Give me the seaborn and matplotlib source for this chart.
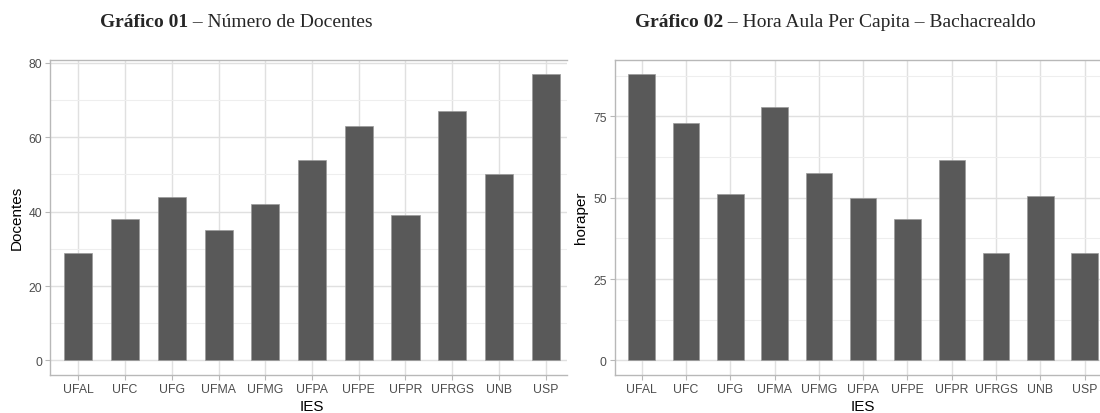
import matplotlib
matplotlib.use("Agg")
import matplotlib.pyplot as plt
import seaborn as sns
import pandas as pd
from matplotlib.ticker import MultipleLocator

ies = ["UFAL", "UFC", "UFG", "UFMA", "UFMG", "UFPA", "UFPE", "UFPR", "UFRGS", "UNB", "USP"]
docentes = [29, 38, 44, 35, 42, 54, 63, 39, 67, 50, 77]
horaper = [88, 73, 51, 78, 57.5, 50, 43.5, 61.5, 33, 50.5, 33]

title1_bold = "Gráfico 01"
title1_rest = " – Número de Docentes"
title2_bold = "Gráfico 02"
title2_rest = " – Hora Aula Per Capita – Bachacrealdo"

sns.set_style("white")
plt.rcParams["font.family"] = ["Liberation Sans", "DejaVu Sans"]

W, H = 1100, 414
fig = plt.figure(figsize=(W / 100, H / 100), dpi=100)

def px_axes(left, right, top, bottom):
    return fig.add_axes([left / W, (H - bottom) / H, (right - left) / W, (bottom - top) / H])

BAR = "#595959"
GRID = "#e0e0e0"
GRID_MINOR = "#eeeeee"
BORDER = "#b8b8b8"

def style(ax, ymaj, ymin_, ylim, xmax, ylabel, xlab_x, ylab_x):
    ax.set_xlim(-0.6, xmax)
    ax.set_ylim(*ylim)
    ax.yaxis.set_major_locator(MultipleLocator(ymaj))
    ax.yaxis.set_minor_locator(MultipleLocator(ymin_))
    ax.set_axisbelow(True)
    ax.grid(which="major", axis="both", color=GRID, linewidth=1.0)
    ax.grid(which="minor", axis="y", color=GRID_MINOR, linewidth=0.8)
    for s in ["left", "top", "bottom"]:
        ax.spines[s].set_visible(True)
        ax.spines[s].set_color(BORDER)
        ax.spines[s].set_linewidth(1.0)
    ax.spines["right"].set_visible(False)
    ax.tick_params(axis="both", which="major", length=3.5, width=0.8, color=BORDER,
                   labelsize=8.8, labelcolor="#4d4d4d", pad=2.5, left=True, bottom=True)
    ax.tick_params(axis="y", which="minor", length=0)
    ax.set_ylabel(ylabel, fontsize=11, color="black")
    ax.set_xlabel("IES", fontsize=11, color="black")
    ax.xaxis.set_label_coords(xlab_x, -0.078)
    ax.yaxis.set_label_coords(ylab_x, 0.5)

# Left panel
ax1 = px_axes(50.3, 567, 60.7, 375.7)
df1 = pd.DataFrame({"IES": ies, "Docentes": docentes})
sns.barplot(data=df1, x="IES", y="Docentes", color=BAR, saturation=1, width=0.6,
            edgecolor="#9a9a9a", linewidth=0.5, ax=ax1)
style(ax1, 20, 10, (-3.85, 80.85), (567 - 78.3) / 46.74, "Docentes", 0.506, (24 - 50.3) / 516.7)

# Right panel
ax2 = px_axes(615.1, 1100, 60.7, 375.7)
df2 = pd.DataFrame({"IES": ies, "horaper": horaper})
sns.barplot(data=df2, x="IES", y="horaper", color=BAR, saturation=1, width=0.6,
            edgecolor="#9a9a9a", linewidth=0.5, ax=ax2)
style(ax2, 25, 12.5, (-4.4, 92.4), (1100 - 641.7) / 44.3, "horaper", 0.511, (588 - 615.1) / 484.9)

# Titles (bold + regular parts), centred on a given x
SERIF = ["Liberation Serif", "DejaVu Serif"]

def title(cx_px, bold, rest):
    t = fig.text(cx_px / W, (H - 27) / H, bold, fontsize=14, fontweight="bold",
                 family=SERIF, va="baseline", ha="left")
    r = fig.text(cx_px / W, (H - 27) / H, rest, fontsize=14, family=SERIF,
                 va="baseline", ha="left")
    fig.canvas.draw()
    rend = fig.canvas.get_renderer()
    wb = t.get_window_extent(rend).width
    wr = r.get_window_extent(rend).width
    left = cx_px - (wb + wr) / 2
    t.set_x(left / W)
    r.set_x((left + wb) / W)

title(236.5, title1_bold, title1_rest)
title(835.5, title2_bold, title2_rest)

fig.savefig("out.png", dpi=100, facecolor="white")
